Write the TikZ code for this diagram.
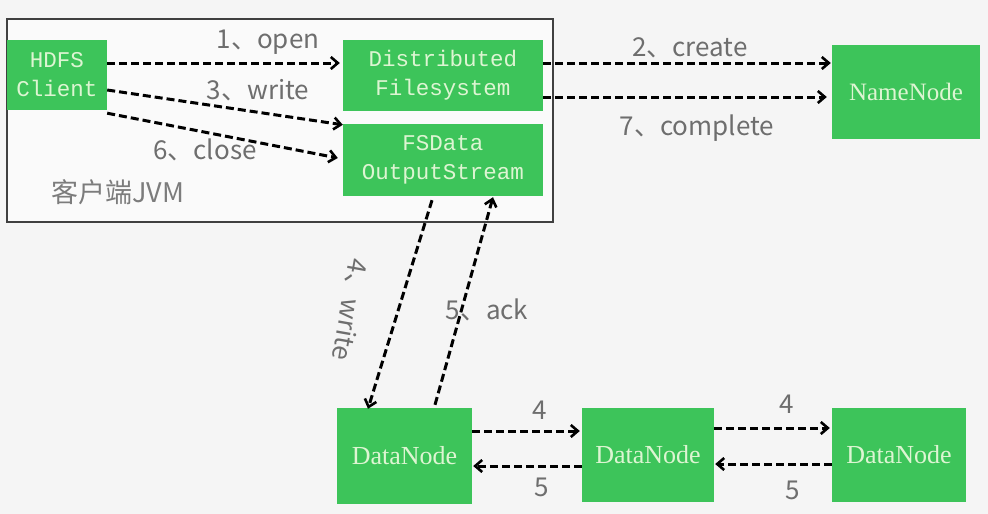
\documentclass[tikz,border=0pt]{standalone}
\usepackage{fontspec}
\usetikzlibrary{arrows.meta}
\newfontfamily\labfont{Noto Sans CJK SC}
\newfontfamily\boxmono{Liberation Mono}
\newfontfamily\boxserif{Liberation Serif}
\definecolor{boxgreen}{HTML}{3DC45A}
\definecolor{boxtext}{HTML}{DDF5D2}
\definecolor{labgray}{HTML}{6E6E6E}
\definecolor{bggray}{HTML}{F5F5F5}
\tikzset{
  gbox/.style={rectangle, fill=boxgreen, text=boxtext, inner sep=0pt, align=center},
  monotext/.style={font=\boxmono\fontsize{22.5}{29}\selectfont},
  seriftext/.style={font=\boxserif\fontsize{26}{29}\selectfont},
  lab/.style={font=\labfont\fontsize{26}{30}\selectfont, text=labgray, inner sep=0pt},
  arr/.style={line width=3pt, dash pattern=on 8pt off 4pt, -{Straight Barb[length=7pt,width=12pt,line width=2.6pt]}},
}
\begin{document}
\begin{tikzpicture}[x=1pt,y=-1pt]
\fill[bggray] (0,0) rectangle (988,514);
\useasboundingbox (0,0) rectangle (988,514);
\node[draw=black!75, line width=1.2pt, fill=white!50!bggray, minimum width=546pt, minimum height=203pt, inner sep=0pt] (jvm) at (280,120.5) {};
\node[gbox, monotext, minimum width=100pt, minimum height=70pt] (hdfs) at (57,75) {HDFS\\Client};
\node[gbox, monotext, minimum width=200pt, minimum height=71pt] (dfs) at (443,75.5) {Distributed\\Filesystem};
\node[gbox, monotext, minimum width=200pt, minimum height=72pt] (fso) at (443,160) {FSData\\OutputStream};
\node[gbox, seriftext, font=\boxserif\fontsize{25}{29}\selectfont, minimum width=148pt, minimum height=94pt] (nn) at (906,92) {NameNode};
\node[gbox, seriftext, minimum width=135pt, minimum height=96pt] (dn1) at (404.5,456) {DataNode};
\node[gbox, seriftext, minimum width=132pt, minimum height=94pt] (dn2) at (648,455) {DataNode};
\node[gbox, seriftext, minimum width=134pt, minimum height=94pt] (dn3) at (899,455) {DataNode};

\draw[arr] ([yshift=12pt]hdfs.east) -- ([xshift=-3pt,yshift=12.5pt]dfs.west);
\draw[arr] ([yshift=-15pt]hdfs.east) -- ([xshift=0pt,yshift=-1pt]fso.north west);
\draw[arr] ([yshift=-3pt]hdfs.south east) -- ([xshift=-5pt,yshift=2pt]fso.west);
\draw[arr] ([yshift=12.5pt]dfs.east) -- ([xshift=-1pt,yshift=29pt]nn.west);
\draw[arr] ([yshift=-21.5pt]dfs.east) -- ([xshift=-5pt,yshift=-5pt]nn.west);
\draw[arr] ([xshift=-11pt,yshift=-4pt]fso.south) -- ([xshift=-36.5pt,yshift=-1pt]dn1.north);
\draw[arr] ([xshift=30.5pt,yshift=3pt]dn1.north) -- ([xshift=50pt,yshift=-1pt]fso.south);
\draw[arr] ([yshift=25pt]dn1.east) -- ([xshift=-2pt,yshift=24pt]dn2.west);
\draw[arr] ([yshift=-11pt]dn2.west) -- ([xshift=1pt,yshift=-10pt]dn1.east);
\draw[arr] ([yshift=27pt]dn2.east) -- ([xshift=-2pt,yshift=27pt]dn3.west);
\draw[arr] ([yshift=-9pt]dn3.west) -- ([xshift=1pt,yshift=-9pt]dn2.east);

\node[lab] (l1) at (268,42) {1、open};
\node[lab] (l3) at (258,90) {3、write};
\node[lab] (l6) at (205,150) {6、close};
\node[lab, text=labgray!90, font=\labfont\fontsize{27}{30}\selectfont] (ljvm) at (118,192) {客户端JVM};
\node[lab] (l2) at (690,48) {2、create};
\node[lab] (l7) at (697,128) {7、complete};
\node[lab, rotate=-100] (l4w) at (350,310) {4、write};
\node[lab] (l5a) at (487,310) {5、ack};
\node[lab] (n4a) at (540,410) {4};
\node[lab] (n5a) at (542,487) {5};
\node[lab] (n4b) at (787,404) {4};
\node[lab] (n5b) at (793,490) {5};
\end{tikzpicture}
\end{document}
